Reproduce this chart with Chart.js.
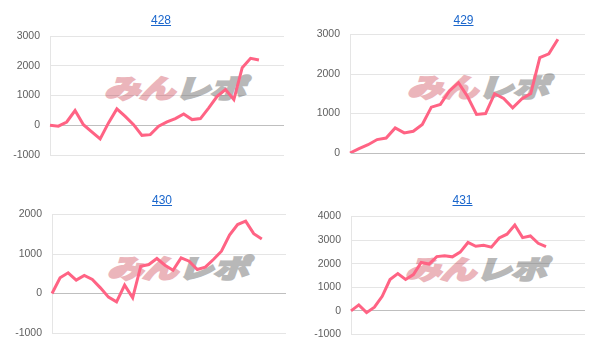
<!DOCTYPE html>
<html>
<head>
<meta charset="utf-8">
<script src="https://cdn.jsdelivr.net/npm/chart.js@4/dist/chart.umd.min.js"></script>
<style>
  html, body { margin: 0; padding: 0; background: #fff; }
  body { width: 604px; height: 361px; position: relative; overflow: hidden; font-family: "Liberation Sans", Arial, sans-serif; }
  .title { position: absolute; text-align: center; font-size: 12px; line-height: 14px; z-index: 3; }
  .title a { color: #1a66cc; text-decoration: underline; }
  .wm { position: absolute; z-index: 1; white-space: nowrap; font-family: "Noto Sans CJK JP", sans-serif; font-weight: bold; font-style: italic; font-size: 26px; line-height: 27px; transform-origin: 0 0; transform: scaleX(1.36); }
  .wm .p { color: #ebb5bb; -webkit-text-stroke: 2.5px #ebb5bb; }
  .wm .g { color: #b8b8b8; -webkit-text-stroke: 2.5px #b8b8b8; }
  canvas { position: absolute; z-index: 2; }
</style>
</head>
<body>
<div class="title" style="left:0;top:13px;width:322px;"><a href="#">428</a></div>
<div class="title" style="left:302px;top:13px;width:323px;"><a href="#">429</a></div>
<div class="title" style="left:0;top:193px;width:324px;"><a href="#">430</a></div>
<div class="title" style="left:302px;top:193px;width:321px;"><a href="#">431</a></div>

<div class="wm" style="left:104px;top:73px;"><span class="p">みん</span><span class="g">レポ</span></div>
<div class="wm" style="left:407px;top:72px;"><span class="p">みん</span><span class="g">レポ</span></div>
<div class="wm" style="left:107px;top:253px;"><span class="p">みん</span><span class="g">レポ</span></div>
<div class="wm" style="left:405px;top:254px;"><span class="p">みん</span><span class="g">レポ</span></div>

<canvas id="c428" width="302" height="180" style="left:0;top:0;"></canvas>
<canvas id="c429" width="302" height="180" style="left:302px;top:0;"></canvas>
<canvas id="c430" width="302" height="181" style="left:0;top:180px;"></canvas>
<canvas id="c431" width="302" height="181" style="left:302px;top:180px;"></canvas>

<script>
// ---- data ----
const titles = ['428', '429', '430', '431'];

const labels428 = ['1','2','3','4','5','6','7','8','9','10','11','12','13','14','15','16','17','18','19','20','21','22','23','24','25','26','27','28','29'];
const labels429 = ['1','2','3','4','5','6','7','8','9','10','11','12','13','14','15','16','17','18','19','20','21','22','23','24','25','26','27'];
const labels430 = ['1','2','3','4','5','6','7','8','9','10','11','12','13','14','15','16','17','18','19','20','21','22','23','24','25','26','27','28','29','30'];
const labels431 = ['1','2','3','4','5','6','7','8','9','10','11','12','13','14','15','16','17','18','19','20','21','22','23','24','25','26','27','28','29','30','31'];

const values428 = [0, -30, 110, 495, 20, -225, -460, 80, 550, 300, 20, -340, -315, -35, 110, 225, 380, 190, 225, 585, 970, 1200, 865, 1935, 2250, 2195];
const values429 = [0, 110, 210, 340, 380, 635, 508, 550, 720, 1160, 1230, 1570, 1780, 1430, 975, 1000, 1500, 1380, 1145, 1370, 1505, 2415, 2510, 2880];
const values430 = [0, 397, 523, 338, 456, 354, 143, -93, -211, 211, -110, 692, 734, 886, 717, 590, 903, 819, 608, 667, 861, 1070, 1480, 1747, 1831, 1515, 1380];
const values431 = [0, 255, -75, 155, 620, 1330, 1580, 1330, 1540, 2050, 1985, 2300, 2340, 2290, 2490, 2900, 2740, 2780, 2700, 3090, 3250, 3640, 3105, 3175, 2865, 2725];

const yTicks428 = [-1000, 0, 1000, 2000, 3000];
const yTicks429 = [0, 1000, 2000, 3000];
const yTicks430 = [-1000, 0, 1000, 2000];
const yTicks431 = [-1000, 0, 1000, 2000, 3000, 4000];

// ---- drawing ----
function makeChart(id, labels, values, yTicks, axisWidth, pad) {
  new Chart(document.getElementById(id), {
    type: 'line',
    data: {
      labels: labels,
      datasets: [{
        data: values,
        borderColor: 'rgb(255, 99, 132)',
        backgroundColor: 'rgb(255, 99, 132)',
        borderWidth: 3,
        pointRadius: 0,
        pointHoverRadius: 0,
        tension: 0,
        fill: false
      }]
    },
    options: {
      responsive: false,
      animation: false,
      devicePixelRatio: 1,
      layout: { padding: pad },
      plugins: { legend: { display: false }, tooltip: { enabled: false }, title: { display: false } },
      scales: {
        x: { display: false },
        y: {
          min: yTicks[0],
          max: yTicks[yTicks.length - 1],
          afterFit: function (s) { s.width = axisWidth; },
          afterBuildTicks: function (s) { s.ticks = yTicks.map(function (v) { return { value: v }; }); },
          ticks: {
            stepSize: 1000,
            padding: 10,
            color: '#5f5f5f',
            callback: function (v) { return String(v); },
            font: { family: '"Liberation Sans", Arial, sans-serif', size: 10.5 }
          },
          grid: {
            drawTicks: false,
            color: function (c) { return (c.tick && c.tick.value === 0) ? 'rgba(0,0,0,0.25)' : 'rgba(0,0,0,0.1)'; }
          },
          border: { color: 'rgba(0,0,0,0.1)' }
        }
      }
    }
  });
}

makeChart('c428', labels428, values428, yTicks428, 50, { top: 36, right: 18, bottom: 25, left: 0 });
makeChart('c429', labels429, values429, yTicks429, 48, { top: 34.5, right: 19, bottom: 27, left: 0 });
makeChart('c430', labels430, values430, yTicks430, 52, { top: 34.5, right: 16, bottom: 28, left: 0 });
makeChart('c431', labels431, values431, yTicks431, 49, { top: 36.5, right: 19, bottom: 26.5, left: 0 });
</script>
</body>
</html>
